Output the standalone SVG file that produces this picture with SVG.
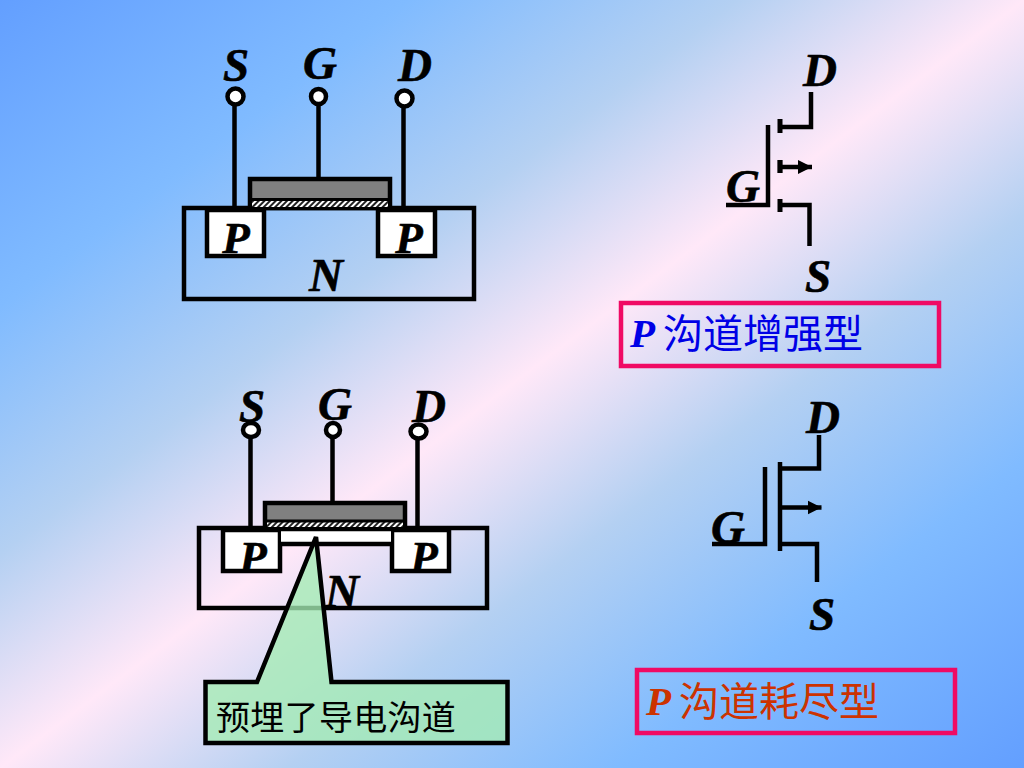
<svg xmlns="http://www.w3.org/2000/svg" width="1024" height="768" viewBox="0 0 1024 768">
<defs>
<linearGradient id="bg" x1="0" y1="0" x2="1" y2="1">
<stop offset="0" stop-color="#639fff"/>
<stop offset="0.2" stop-color="#80bbff"/>
<stop offset="0.36" stop-color="#b4d0f2"/>
<stop offset="0.5" stop-color="#ffe8f8"/>
<stop offset="0.64" stop-color="#b4d0f2"/>
<stop offset="0.8" stop-color="#80bbff"/>
<stop offset="1" stop-color="#639fff"/>
</linearGradient>
<pattern id="hatch" width="4" height="4" patternUnits="userSpaceOnUse" patternTransform="rotate(45)">
<rect width="4" height="4" fill="#fff"/>
<rect width="2" height="4" fill="#222"/>
</pattern>
<marker id="arr" markerUnits="userSpaceOnUse" markerWidth="15" markerHeight="15" refX="14" refY="7.500" orient="auto">
<path d="M0 0.500L14 7.500L0 14.500Z" fill="#000"/>
</marker>
<style>
.l{font:italic bold 47px "Liberation Serif",serif;fill:#000;stroke:#000;stroke-width:.6;text-anchor:middle}
.p{font-size:45px}
.w{stroke:#000;stroke-width:4.500;fill:none}
.t{fill:#fff;stroke:#000;stroke-width:4.500}
.c{fill:#fff;stroke:#000;stroke-width:4.500}
.box{fill:none;stroke:#f00a64;stroke-width:4.500}
.cjk{font:36px "Noto Sans CJK SC",sans-serif}
.lp{font:italic bold 41px "Liberation Serif",serif}
</style>
</defs>
<rect width="1024" height="768" fill="url(#bg)"/>

<g id="device-enhancement">
<rect class="w" x="184" y="208" width="290" height="91"/>
<rect class="t" x="207" y="210" width="57" height="46"/>
<rect class="t" x="378" y="210" width="57" height="46"/>
<rect x="250" y="179" width="140" height="29" fill="#808080" stroke="#000" stroke-width="4.500"/>
<rect x="252" y="201" width="136" height="6" fill="url(#hatch)"/>
<path d="M250 199.500H390" stroke="#000" stroke-width="3"/>
<text class="l" x="236" y="81">S</text>
<text class="l" x="320" y="79">G</text>
<text class="l" x="415" y="81">D</text>
<text class="l p" x="236" y="253">P</text>
<text class="l p" x="409" y="253">P</text>
<text class="l" x="326" y="291">N</text>
</g>

<g id="device-depletion">
<rect class="w" x="199" y="528" width="288" height="80"/>
<rect class="t" x="223" y="530" width="57" height="41"/>
<rect class="t" x="392" y="530" width="57" height="41"/>
<rect x="281" y="530" width="110" height="14" fill="#fff"/>
<path class="w" d="M280 544H392"/>
<rect x="265" y="503" width="140" height="26" fill="#808080" stroke="#000" stroke-width="4.500"/>
<rect x="267" y="522" width="136" height="5" fill="url(#hatch)"/>
<path d="M265 521H405" stroke="#000" stroke-width="3"/>
<text class="l" x="252" y="422">S</text>
<text class="l" x="335" y="420">G</text>
<text class="l" x="429" y="422">D</text>
<text class="l p" x="253" y="572">P</text>
<text class="l p" x="424" y="572">P</text>
<text class="l" x="342" y="607">N</text>
</g>

<g id="connectors">
<path class="w" d="M234.500 104V208M318.500 104V178M403.500 106V208"/>
<path class="w" d="M250.500 437V528M332.500 437V502M417.500 439V528"/>
<path class="w" d="M726 205H768V125M811 92V127H780M780 160V173M809.500 246V205H780"/>
<path d="M780 119V133M780 160V173M780 199V212" stroke="#000" stroke-width="5" fill="none"/>
<path class="w" d="M780 167H812" marker-end="url(#arr)"/>
<path class="w" d="M712 544H765V467M780 462V551M780 468.500H819V435M780 544H817V582"/>
<path class="w" d="M780 507.500H821.500" marker-end="url(#arr)"/>
</g>

<g id="terminals">
<circle class="c" cx="235.500" cy="96.500" r="8"/>
<circle class="c" cx="318.500" cy="96.500" r="7.500"/>
<circle class="c" cx="404.500" cy="98.500" r="8"/>
<ellipse class="c" cx="251" cy="430" rx="8" ry="7"/>
<circle class="c" cx="333" cy="430" r="7"/>
<ellipse class="c" cx="418.500" cy="431.500" rx="8" ry="7"/>
</g>

<g id="symbol-enhancement">
<text class="l" x="820" y="86">D</text>
<text class="l" x="743" y="202">G</text>
<text class="l" x="818" y="292">S</text>
</g>

<g id="symbol-depletion">
<text class="l" x="823" y="433">D</text>
<text class="l" x="728" y="543">G</text>
<text class="l" x="822" y="630">S</text>
</g>

<g id="label-enhancement">
<rect class="box" x="621" y="303" width="318" height="63"/>
<text class="lp" x="630" y="347" fill="#0000e6">P</text>
<text class="cjk" x="663" y="348" fill="#0000e6" style="font-size:40px">沟道增强型</text>
</g>

<g id="label-depletion">
<rect class="box" x="637" y="670" width="318" height="63"/>
<text class="lp" x="646" y="715" fill="#cc3300">P</text>
<text class="cjk" x="679" y="716" fill="#cc3300" style="font-size:40px">沟道耗尽型</text>
</g>

<g id="callout">
<path d="M316 537L257 682H205.500V743H507.500V682H331.500Z" fill="#a4ecb4" fill-opacity="0.78" stroke="#000" stroke-width="4.500"/>
<text class="cjk" x="216" y="730" fill="#000" style="font-size:34px;letter-spacing:.3px">预埋了导电沟道</text>
</g>
</svg>
